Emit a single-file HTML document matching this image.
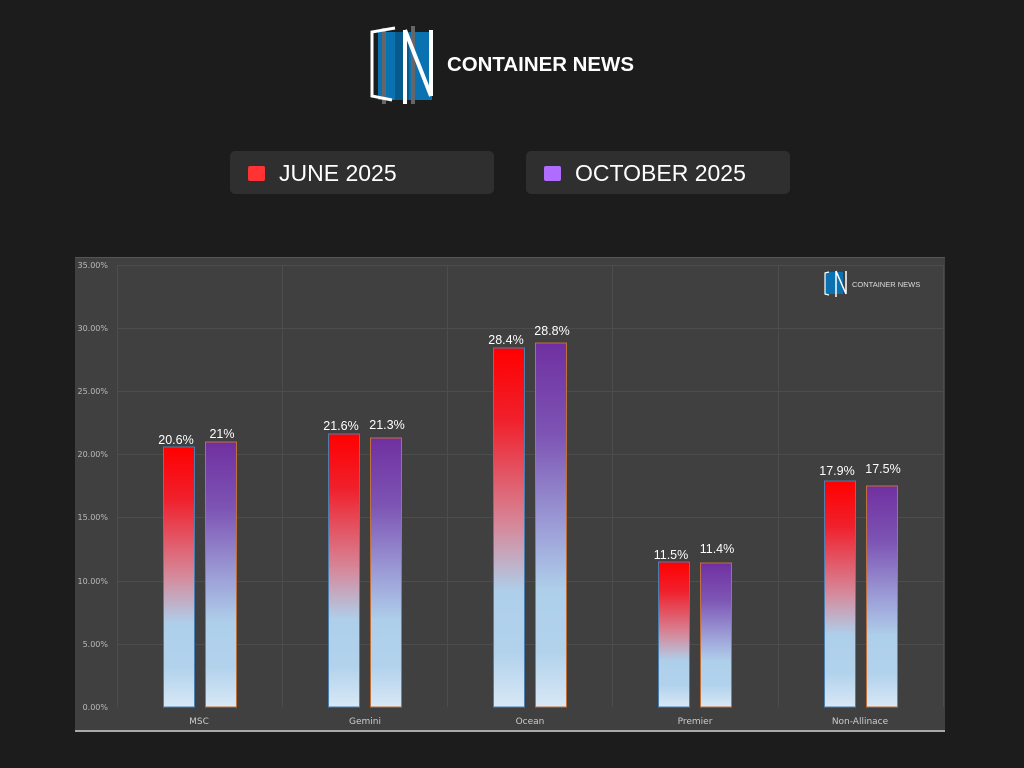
<!DOCTYPE html>
<html><head><meta charset="utf-8"><style>
body{margin:0;background:#1c1c1c;width:1024px;height:768px;overflow:hidden;font-family:"Liberation Sans",sans-serif}
</style></head><body>
<svg width="1024" height="768" xmlns="http://www.w3.org/2000/svg" style="position:absolute;left:0;top:0">
<defs>
<linearGradient id="gr" x1="0" y1="0" x2="0" y2="1">
<stop offset="0" stop-color="#ff0000"/><stop offset="0.2" stop-color="#f0202c"/><stop offset="0.5" stop-color="#d58a9c"/><stop offset="0.68" stop-color="#aecfea"/><stop offset="0.85" stop-color="#b2d2ec"/><stop offset="1" stop-color="#d8e8f6"/>
</linearGradient>
<linearGradient id="gp" x1="0" y1="0" x2="0" y2="1">
<stop offset="0" stop-color="#7030a0"/><stop offset="0.25" stop-color="#7d54b4"/><stop offset="0.5" stop-color="#9c9cd6"/><stop offset="0.68" stop-color="#aecfea"/><stop offset="0.85" stop-color="#b2d2ec"/><stop offset="1" stop-color="#d8e8f6"/>
</linearGradient>
</defs>
<g>
<rect x="378" y="32" width="54" height="68" fill="#0a72b0"/>
<rect x="395" y="32" width="14" height="68" fill="#075a8c"/>
<rect x="382" y="28" width="4" height="76" fill="#666"/>
<rect x="411" y="26" width="4" height="78" fill="#666"/>
<polyline points="395,28 372,32 372,96 392,100" fill="none" stroke="#fff" stroke-width="3"/>
<path d="M405,30 L405,104 M405,30 L431,96 M431,30 L431,96" stroke="#fff" stroke-width="4" fill="none"/>
<text x="447" y="71" fill="#fff" font-size="20.5" font-weight="bold" textLength="187" lengthAdjust="spacingAndGlyphs">CONTAINER NEWS</text>
</g>
<rect x="230" y="151" width="264" height="43" rx="5" fill="#2f2f2f"/>
<rect x="248" y="166" width="17" height="15" rx="2" fill="#ff3333"/>
<text x="279" y="181" fill="#fff" font-size="23">JUNE 2025</text>
<rect x="526" y="151" width="264" height="43" rx="5" fill="#2f2f2f"/>
<rect x="544" y="166" width="17" height="15" rx="2" fill="#b06cff"/>
<text x="575" y="181" fill="#fff" font-size="23">OCTOBER 2025</text>
<rect x="75" y="257" width="870" height="475" fill="#404040"/>
<rect x="75" y="257" width="870" height="1" fill="#555"/>
<rect x="75" y="730" width="870" height="2" fill="#aaa"/>
<g stroke="#4d4d4d" stroke-width="1">
<line x1="117" y1="265.5" x2="943" y2="265.5"/>
<line x1="117" y1="328.5" x2="943" y2="328.5"/>
<line x1="117" y1="391.5" x2="943" y2="391.5"/>
<line x1="117" y1="454.5" x2="943" y2="454.5"/>
<line x1="117" y1="517.5" x2="943" y2="517.5"/>
<line x1="117" y1="581.5" x2="943" y2="581.5"/>
<line x1="117" y1="644.5" x2="943" y2="644.5"/>
<line x1="117.5" y1="265" x2="117.5" y2="707"/>
<line x1="282.5" y1="265" x2="282.5" y2="707"/>
<line x1="447.5" y1="265" x2="447.5" y2="707"/>
<line x1="612.5" y1="265" x2="612.5" y2="707"/>
<line x1="778.5" y1="265" x2="778.5" y2="707"/>
<line x1="943.5" y1="265" x2="943.5" y2="707"/>
</g>
<g fill="#bbb" font-size="8" text-anchor="end" font-family="DejaVu Sans, sans-serif">
<text x="108" y="268">35.00%</text><text x="108" y="331">30.00%</text><text x="108" y="394">25.00%</text>
<text x="108" y="457">20.00%</text><text x="108" y="520">15.00%</text><text x="108" y="584">10.00%</text>
<text x="108" y="647">5.00%</text><text x="108" y="710">0.00%</text>
</g>
<g fill="#ccc" font-size="9" text-anchor="middle" font-family="DejaVu Sans, sans-serif">
<text x="199" y="724">MSC</text><text x="365" y="724">Gemini</text><text x="530" y="724">Ocean</text>
<text x="695" y="724">Premier</text><text x="860" y="724">Non-Allinace</text>
</g>
<g stroke-width="1">
<rect x="163.5" y="447" width="31" height="260" fill="url(#gr)" stroke="#4a7fb0"/>
<rect x="205.5" y="442" width="31" height="265" fill="url(#gp)" stroke="#c0703a"/>
<rect x="328.5" y="434" width="31" height="273" fill="url(#gr)" stroke="#4a7fb0"/>
<rect x="370.5" y="438" width="31" height="269" fill="url(#gp)" stroke="#c0703a"/>
<rect x="493.5" y="348" width="31" height="359" fill="url(#gr)" stroke="#4a7fb0"/>
<rect x="535.5" y="343" width="31" height="364" fill="url(#gp)" stroke="#c0703a"/>
<rect x="658.5" y="562" width="31" height="145" fill="url(#gr)" stroke="#4a7fb0"/>
<rect x="700.5" y="563" width="31" height="144" fill="url(#gp)" stroke="#c0703a"/>
<rect x="824.5" y="481" width="31" height="226" fill="url(#gr)" stroke="#4a7fb0"/>
<rect x="866.5" y="486" width="31" height="221" fill="url(#gp)" stroke="#c0703a"/>
</g>
<g fill="#fff" font-size="12.5" text-anchor="middle">
<text x="176" y="444">20.6%</text><text x="222" y="438">21%</text>
<text x="341" y="430">21.6%</text><text x="387" y="429">21.3%</text>
<text x="506" y="344">28.4%</text><text x="552" y="335">28.8%</text>
<text x="671" y="559">11.5%</text><text x="717" y="553">11.4%</text>
<text x="837" y="475">17.9%</text><text x="883" y="473">17.5%</text>
</g>
<g>
<rect x="825" y="272" width="18" height="22" fill="#0a72b0"/>
<path d="M829,272 L825,273 L825,294 L829,295" stroke="#fff" stroke-width="1.2" fill="none"/>
<path d="M836,271 L836,297 M836,271 L846,294 M846,271 L846,294" stroke="#fff" stroke-width="1.5" fill="none"/>
<text x="852" y="287" fill="#ddd" font-size="7.5">CONTAINER NEWS</text>
</g>
</svg>
</body></html>
